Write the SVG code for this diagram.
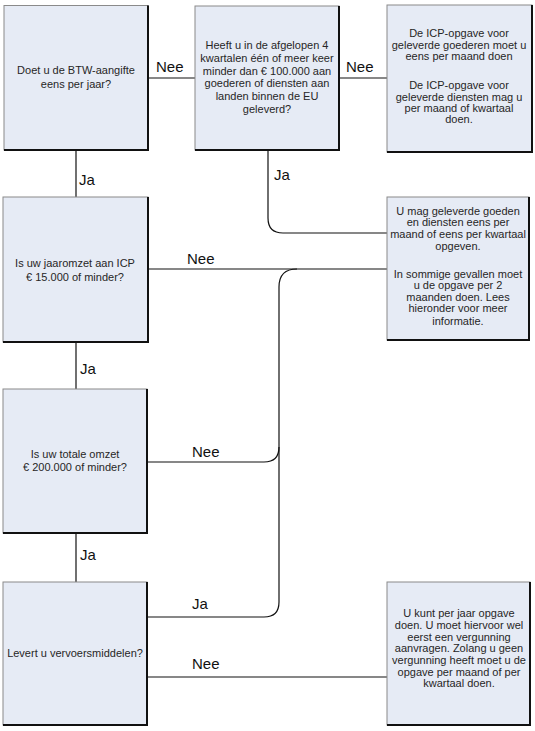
<svg xmlns="http://www.w3.org/2000/svg" width="535" height="731" viewBox="0 0 535 731">
<style>
.box{fill:#e6ebf5;stroke:#8a8a8a;stroke-width:1}
.sh{fill:none;stroke:#111;stroke-width:2}
.t{font-family:"Liberation Sans",Arial,sans-serif;font-size:11px;fill:#262626;text-anchor:middle}
.lbl{font-family:"Liberation Sans",Arial,sans-serif;font-size:15px;fill:#111}
.c{fill:none;stroke:#111;stroke-width:1.2}
</style>
<rect width="535" height="731" fill="#fff"/>
<g id="connectors">
<path class="c" d="M148 78H195"/>
<path class="c" d="M339 78H387"/>
<path class="c" d="M76 150V197"/>
<path class="c" d="M268 150V218Q268 233 283 233H387"/>
<path class="c" d="M148 269H387"/>
<path class="c" d="M76 342V389"/>
<path class="c" d="M147 462H264Q279 462 279 447V287Q279 269 297 269"/>
<path class="c" d="M147 617H264Q279 617 279 602V447"/>
<path class="c" d="M76 533V582"/>
<path class="c" d="M147 677H387"/>
<text class="lbl" x="156" y="72">Nee</text>
<text class="lbl" x="346" y="72">Nee</text>
<text class="lbl" x="79" y="185">Ja</text>
<text class="lbl" x="274" y="180">Ja</text>
<text class="lbl" x="187" y="264">Nee</text>
<text class="lbl" x="80" y="374">Ja</text>
<text class="lbl" x="192" y="457">Nee</text>
<text class="lbl" x="80" y="560">Ja</text>
<text class="lbl" x="192" y="609">Ja</text>
<text class="lbl" x="192" y="669">Nee</text>
</g>
<g id="n1">
<rect class="box" x="4" y="5.5" width="144" height="144.5"/><path class="sh" d="M4 150H148V5.5"/>
<text class="t" x="76"><tspan x="76" y="74">Doet u de BTW-aangifte</tspan><tspan x="76" y="88">eens per jaar?</tspan></text>
</g>
<g id="n2">
<rect class="box" x="195" y="6" width="144" height="144"/><path class="sh" d="M195 150H339V6"/>
<text class="t"><tspan x="267" y="49">Heeft u in de afgelopen 4</tspan><tspan x="267" y="62">kwartalen één of meer keer</tspan><tspan x="267" y="75">minder dan € 100.000 aan</tspan><tspan x="267" y="87">goederen of diensten aan</tspan><tspan x="267" y="100">landen binnen de EU</tspan><tspan x="267" y="113">geleverd?</tspan></text>
</g>
<g id="n3">
<rect class="box" x="387" y="5" width="145" height="147"/><path class="sh" d="M387 152H532V5"/>
<text class="t"><tspan x="459" y="37">De ICP-opgave voor</tspan><tspan x="459" y="49">geleverde goederen moet u</tspan><tspan x="459" y="60">eens per maand doen</tspan><tspan x="459" y="89">De ICP-opgave voor</tspan><tspan x="459" y="101">geleverde diensten mag u</tspan><tspan x="459" y="112">per maand of kwartaal</tspan><tspan x="459" y="123">doen.</tspan></text>
</g>
<g id="n4">
<rect class="box" x="3" y="197" width="145" height="145"/><path class="sh" d="M3 342H148V197"/>
<text class="t"><tspan x="75" y="267">Is uw jaaromzet aan ICP</tspan><tspan x="75" y="281">€ 15.000 of minder?</tspan></text>
</g>
<g id="n5">
<rect class="box" x="387" y="197" width="142" height="143"/><path class="sh" d="M387 340H529V197"/>
<text class="t"><tspan x="458" y="215">U mag geleverde goeden</tspan><tspan x="458" y="226">en diensten eens per</tspan><tspan x="458" y="238">maand of eens per kwartaal</tspan><tspan x="458" y="250">opgeven.</tspan><tspan x="458" y="278">In sommige gevallen moet</tspan><tspan x="458" y="289">u de opgave per 2</tspan><tspan x="458" y="301">maanden doen. Lees</tspan><tspan x="458" y="312">hieronder voor meer</tspan><tspan x="458" y="325">informatie.</tspan></text>
</g>
<g id="n6">
<rect class="box" x="3" y="389" width="144" height="144"/><path class="sh" d="M3 533H147V389"/>
<text class="t"><tspan x="75" y="458">Is uw totale omzet</tspan><tspan x="75" y="471">€ 200.000 of minder?</tspan></text>
</g>
<g id="n7">
<rect class="box" x="3" y="582" width="144" height="143"/><path class="sh" d="M3 725H147V582"/>
<text class="t"><tspan x="75" y="657">Levert u vervoersmiddelen?</tspan></text>
</g>
<g id="n8">
<rect class="box" x="387" y="582" width="143" height="143"/><path class="sh" d="M387 725H530V582"/>
<text class="t"><tspan x="459" y="617">U kunt per jaar opgave</tspan><tspan x="459" y="629">doen. U moet hiervoor wel</tspan><tspan x="459" y="641">eerst een vergunning</tspan><tspan x="459" y="652">aanvragen. Zolang u geen</tspan><tspan x="459" y="664">vergunning heeft moet u de</tspan><tspan x="459" y="676">opgave per maand of per</tspan><tspan x="459" y="687">kwartaal doen.</tspan></text>
</g>
</svg>
